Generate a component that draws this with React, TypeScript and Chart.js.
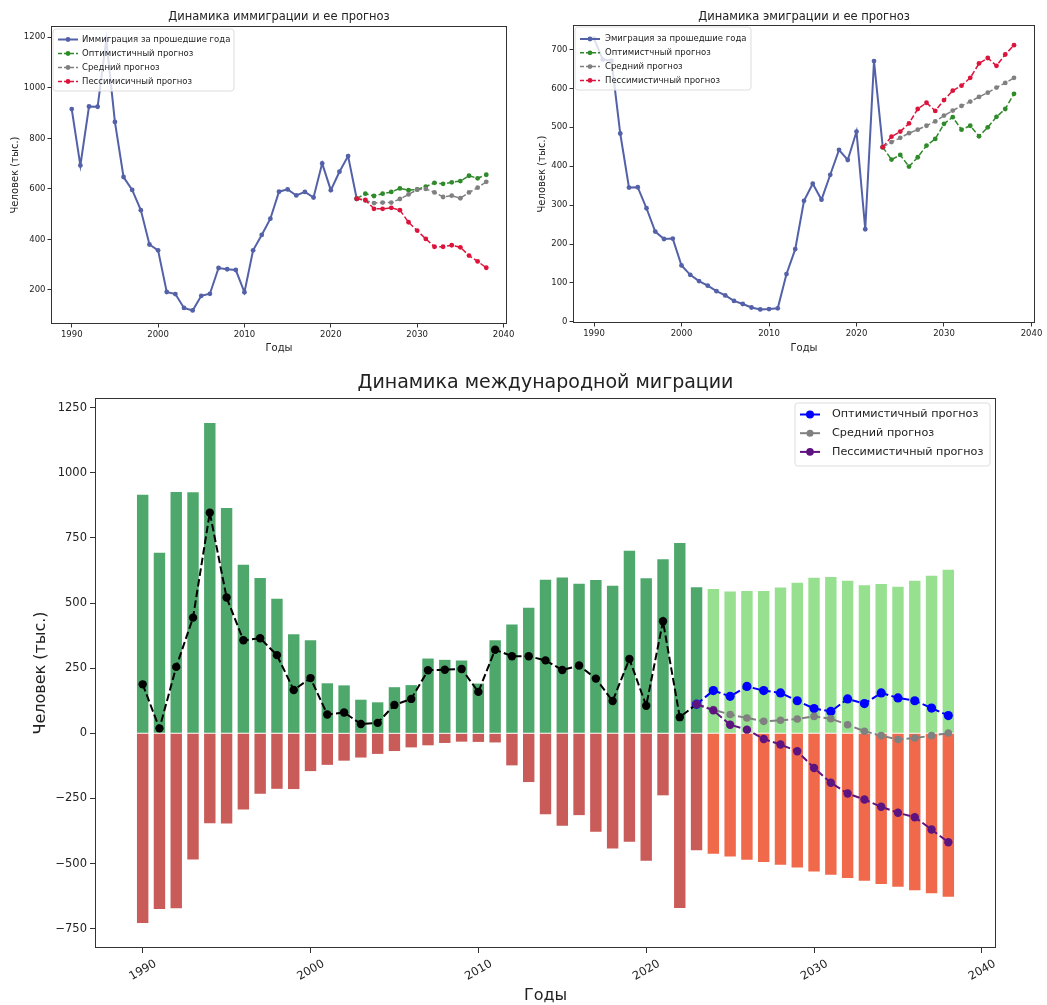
import React, { useEffect, useRef } from "react";
import { Chart, registerables } from "chart.js";
Chart.register(...registerables);

const FONT = "'DejaVu Sans', 'Liberation Sans', sans-serif";

// ---------------- data ----------------
const histYears = [
  1990, 1991, 1992, 1993, 1994, 1995, 1996, 1997, 1998, 1999,
  2000, 2001, 2002, 2003, 2004, 2005, 2006, 2007, 2008, 2009,
  2010, 2011, 2012, 2013, 2014, 2015, 2016, 2017, 2018, 2019,
  2020, 2021, 2022, 2023,
];
const forecastYears = [
  2023, 2024, 2025, 2026, 2027, 2028, 2029, 2030,
  2031, 2032, 2033, 2034, 2035, 2036, 2037, 2038,
];

const immigrationHist = [
  916, 693, 926, 925, 1191, 865, 647, 596, 516, 380,
  357, 192, 184, 129, 119, 177, 185, 287, 282, 279,
  191, 357, 418, 482, 589, 598, 574, 588, 566, 701,
  595, 668, 730, 561,
];
const emigrationHist = [
  728, 674, 671, 484, 345, 346, 292, 232, 213, 214,
  145, 121, 105, 93, 79, 68, 54, 46, 37, 32,
  33, 35, 123, 187, 311, 355, 314, 378, 442, 416,
  489, 238, 670, 449,
];
const netHist = [
  188, 19, 255, 444, 847, 521, 357, 365, 300, 166,
  212, 72, 80, 36, 40, 109, 132, 242, 244, 247,
  159, 321, 296, 296, 280, 243, 260, 210, 124, 285,
  106, 430, 62, 112,
];

const immOptimistic = [561, 581, 572, 581, 588, 602, 595, 598, 609, 624, 620, 626, 631, 652, 642, 656];
const immMiddle = [561, 554, 544, 546, 546, 560, 578, 597, 600, 586, 568, 573, 563, 586, 605, 628];
const immPessimistic = [561, 556, 521, 521, 525, 516, 468, 435, 402, 371, 371, 377, 369, 336, 313, 288];

const emigOptimistic = [449, 417, 429, 399, 423, 453, 470, 509, 526, 494, 504, 477, 500, 527, 547, 586];
const emigMiddle = [449, 462, 473, 485, 494, 504, 515, 530, 543, 555, 566, 578, 589, 602, 614, 627];
const emigPessimistic = [449, 476, 489, 510, 547, 563, 542, 570, 594, 607, 627, 664, 678, 658, 687, 711];

const netOptimistic = [112, 164, 142, 180, 164, 155, 125, 95, 84, 132, 114, 155, 136, 125, 97, 68];
const netMiddle = [112, 91, 72, 59, 46, 50, 55, 65, 56, 33, 8, -9, -24, -18, -9, 1];
const netPessimistic = [112, 88, 33, 14, -22, -43, -69, -133, -190, -231, -254, -282, -305, -322, -369, -418];

const xTicks = [1990, 2000, 2010, 2020, 2030, 2040];
const immTicks = [200, 400, 600, 800, 1000, 1200];
const emigTicks = [0, 100, 200, 300, 400, 500, 600, 700];
const netTicks = [-750, -500, -250, 0, 250, 500, 750, 1000, 1250];

const LAST_HIST_YEAR = 2023;

// ---------------- helpers ----------------
const pts = (xs: number[], ys: number[], sign = 1) => xs.map((x, i) => ({ x, y: ys[i] * sign }));
const padRange = (vals: number[], frac = 0.05): [number, number] => {
  const lo = Math.min(...vals);
  const hi = Math.max(...vals);
  const d = (hi - lo) * frac;
  return [lo - d, hi + d];
};
const fmt = (v: number) => (v < 0 ? "\u2212" + Math.abs(v) : String(v));

const C = {
  hist: "#5361a8",
  green: "#2f8a2a",
  gray: "#808080",
  red: "#dc143c",
  blue: "#0000ff",
  purple: "#5e1480",
  histGreen: "#4ea86c",
  fcGreen: "#97e08f",
  histRed: "#c95b58",
  fcRed: "#f0694a",
  text: "#222222",
  axis: "#333333",
};

type LegendItem = { label: string; color: string; dash: number[]; r: number; lw: number };
type DecoCfg = {
  title: string;
  titleSize: number;
  titleY: number;
  legend: {
    x: number; y: number; w: number; h: number;
    firstY: number; rowH: number; h0: number; h1: number; textX: number; size: number;
    items: LegendItem[];
  };
};

function makeDeco(cfg: DecoCfg) {
  return {
    id: "deco",
    afterDatasetsDraw(chart: any) {
      const ctx: CanvasRenderingContext2D = chart.ctx;
      const ca = chart.chartArea;
      ctx.save();
      // frame
      ctx.setLineDash([]);
      ctx.strokeStyle = C.axis;
      ctx.lineWidth = 1;
      ctx.strokeRect(Math.round(ca.left) + 0.5, Math.round(ca.top) + 0.5, Math.round(ca.right - ca.left) - 1, Math.round(ca.bottom - ca.top) - 1);
      // title
      ctx.fillStyle = C.text;
      ctx.font = `${cfg.titleSize}px ${FONT}`;
      ctx.textAlign = "center";
      ctx.textBaseline = "middle";
      ctx.fillText(cfg.title, (ca.left + ca.right) / 2, cfg.titleY);
      // legend
      const L = cfg.legend;
      ctx.globalAlpha = 0.8;
      ctx.fillStyle = "#ffffff";
      ctx.beginPath();
      (ctx as any).roundRect(L.x, L.y, L.w, L.h, 3);
      ctx.fill();
      ctx.globalAlpha = 1;
      ctx.strokeStyle = "#dddddd";
      ctx.lineWidth = 1;
      ctx.stroke();
      L.items.forEach((it, i) => {
        const cy = L.y + L.firstY + i * L.rowH;
        ctx.setLineDash(it.dash);
        ctx.strokeStyle = it.color;
        ctx.lineWidth = it.lw;
        ctx.beginPath();
        ctx.moveTo(L.x + L.h0, cy);
        ctx.lineTo(L.x + L.h1, cy);
        ctx.stroke();
        ctx.setLineDash([]);
        ctx.fillStyle = it.color;
        ctx.beginPath();
        ctx.arc(L.x + (L.h0 + L.h1) / 2, cy, it.r, 0, Math.PI * 2);
        ctx.fill();
        ctx.fillStyle = C.text;
        ctx.font = `${L.size}px ${FONT}`;
        ctx.textAlign = "left";
        ctx.textBaseline = "middle";
        ctx.fillText(it.label, L.x + L.textX, cy);
      });
      ctx.restore();
    },
  };
}

function xScale(range: [number, number], o: any) {
  return {
    type: "linear",
    min: range[0],
    max: range[1],
    offset: false,
    afterBuildTicks: (s: any) => { s.ticks = xTicks.map((v) => ({ value: v })); },
    afterFit: (s: any) => { s.height = o.height; },
    grid: { display: true, drawOnChartArea: false, drawTicks: true, tickLength: o.tickLength, color: C.axis, offset: false },
    border: { display: false },
    ticks: {
      callback: (v: number) => fmt(v),
      font: { family: FONT, size: o.tickSize },
      color: C.text,
      padding: o.tickPad,
      minRotation: o.rotation,
      maxRotation: o.rotation,
      autoSkip: false,
      labelOffset: o.labelOffset || 0,
    },
    title: { display: true, text: "Годы", font: { family: FONT, size: o.titleSize }, color: C.text, padding: o.titlePad },
  };
}

function yScale(range: [number, number], ticks: number[], o: any) {
  return {
    type: "linear",
    min: range[0],
    max: range[1],
    afterBuildTicks: (s: any) => { s.ticks = ticks.map((v) => ({ value: v })); },
    afterFit: (s: any) => { s.width = o.width; },
    grid: { display: true, drawOnChartArea: false, drawTicks: true, tickLength: o.tickLength, color: C.axis },
    border: { display: false },
    ticks: { callback: (v: number) => fmt(v), font: { family: FONT, size: o.tickSize }, color: C.text, padding: o.tickPad },
    title: { display: true, text: "Человек (тыс.)", font: { family: FONT, size: o.titleSize }, color: C.text, padding: o.titlePad },
  };
}

function lineDs(label: string, data: any[], color: string, o: any) {
  return {
    type: "line",
    label,
    data,
    borderColor: color,
    backgroundColor: color,
    pointBackgroundColor: color,
    pointBorderColor: color,
    pointBorderWidth: 0,
    pointRadius: o.r,
    borderWidth: o.lw,
    borderDash: o.dash || [],
    tension: 0,
    fill: false,
    order: o.order,
  };
}

function baseOptions(padding: any, scales: any) {
  return {
    responsive: false,
    animation: false,
    devicePixelRatio: 1,
    layout: { padding, autoPadding: false },
    plugins: { legend: { display: false }, tooltip: { enabled: false }, title: { display: false } },
    scales,
  };
}

// ---------------- charts ----------------
function immigrationConfig() {
  const yr = padRange([...immigrationHist, ...immOptimistic, ...immMiddle, ...immPessimistic]);
  const xr = padRange([histYears[0], forecastYears[forecastYears.length - 1]]);
  const fd = [5.5, 2.4];
  return {
    type: "line",
    data: {
      datasets: [
        lineDs("Пессимисичный прогноз", pts(forecastYears, immPessimistic), C.red, { r: 2.4, lw: 1.5, dash: fd, order: 1 }),
        lineDs("Средний прогноз", pts(forecastYears, immMiddle), C.gray, { r: 2.4, lw: 1.5, dash: fd, order: 2 }),
        lineDs("Оптимистичный прогноз", pts(forecastYears, immOptimistic), C.green, { r: 2.4, lw: 1.5, dash: fd, order: 3 }),
        lineDs("Иммиграция за прошедшие года", pts(histYears, immigrationHist), C.hist, { r: 2.4, lw: 2, order: 4 }),
      ],
    },
    options: baseOptions(
      { left: 4, right: 13, top: 26, bottom: 0 },
      {
        x: xScale(xr, { height: 36, tickLength: 3.5, tickSize: 8.5, tickPad: 2, rotation: 0, titleSize: 10, titlePad: { top: 2, bottom: 6 } }),
        y: yScale(yr, immTicks, { width: 47, tickLength: 3.5, tickSize: 8.5, tickPad: 2, titleSize: 10, titlePad: { top: 5, bottom: 2 } }),
      }
    ),
    plugins: [
      makeDeco({
        title: "Динамика иммиграции и ее прогноз",
        titleSize: 11.5,
        titleY: 17,
        legend: {
          x: 53, y: 29, w: 181, h: 62, firstY: 10.5, rowH: 14, h0: 5, h1: 25, textX: 29, size: 8.5,
          items: [
            { label: "Иммиграция за прошедшие года", color: C.hist, dash: [], r: 2.4, lw: 2 },
            { label: "Оптимистичный прогноз", color: C.green, dash: [4, 2], r: 2.4, lw: 1.5 },
            { label: "Средний прогноз", color: C.gray, dash: [4, 2], r: 2.4, lw: 1.5 },
            { label: "Пессимисичный прогноз", color: C.red, dash: [4, 2], r: 2.4, lw: 1.5 },
          ],
        },
      }),
    ],
  };
}

function emigrationConfig() {
  const yr = padRange([...emigrationHist, ...emigOptimistic, ...emigMiddle, ...emigPessimistic]);
  const xr = padRange([histYears[0], forecastYears[forecastYears.length - 1]]);
  const fd = [5.5, 2.4];
  return {
    type: "line",
    data: {
      datasets: [
        lineDs("Пессимистичный прогноз", pts(forecastYears, emigPessimistic), C.red, { r: 2.4, lw: 1.5, dash: fd, order: 1 }),
        lineDs("Средний прогноз", pts(forecastYears, emigMiddle), C.gray, { r: 2.4, lw: 1.5, dash: fd, order: 2 }),
        lineDs("Оптимистчный прогноз", pts(forecastYears, emigOptimistic), C.green, { r: 2.4, lw: 1.5, dash: fd, order: 3 }),
        lineDs("Эмиграция за прошедшие года", pts(histYears, emigrationHist), C.hist, { r: 2.4, lw: 2, order: 4 }),
      ],
    },
    options: baseOptions(
      { left: 5, right: 12, top: 25, bottom: 0 },
      {
        x: xScale(xr, { height: 37, tickLength: 3.5, tickSize: 8.5, tickPad: 2, rotation: 0, titleSize: 10, titlePad: { top: 2, bottom: 6 } }),
        y: yScale(yr, emigTicks, { width: 48, tickLength: 3.5, tickSize: 8.5, tickPad: 2, titleSize: 10, titlePad: { top: 11, bottom: 2 } }),
      }
    ),
    plugins: [
      makeDeco({
        title: "Динамика эмиграции и ее прогноз",
        titleSize: 11.5,
        titleY: 17,
        legend: {
          x: 55, y: 27, w: 176, h: 63, firstY: 12, rowH: 13.8, h0: 5, h1: 25, textX: 30, size: 8.5,
          items: [
            { label: "Эмиграция за прошедшие года", color: C.hist, dash: [], r: 2.4, lw: 2 },
            { label: "Оптимистчный прогноз", color: C.green, dash: [4, 2], r: 2.4, lw: 1.5 },
            { label: "Средний прогноз", color: C.gray, dash: [4, 2], r: 2.4, lw: 1.5 },
            { label: "Пессимистичный прогноз", color: C.red, dash: [4, 2], r: 2.4, lw: 1.5 },
          ],
        },
      }),
    ],
  };
}

function netConfig() {
  const barYears = [...histYears, ...forecastYears.slice(1)];
  const immBars = [...immigrationHist, ...immMiddle.slice(1)];
  const emigBars = [...emigrationHist, ...emigMiddle.slice(1)];
  const yr = padRange([...immBars, ...emigBars.map((v) => -v), 0]);
  const xr = padRange([barYears[0] - 0.4, barYears[barYears.length - 1] + 0.4]);
  const immColors = barYears.map((y) => (y <= LAST_HIST_YEAR ? C.histGreen : C.fcGreen));
  const emigColors = barYears.map((y) => (y <= LAST_HIST_YEAR ? C.histRed : C.fcRed));
  const dash = [7.5, 3.3];
  return {
    type: "bar",
    data: {
      datasets: [
        lineDs("Пессимистичный прогноз", pts(forecastYears, netPessimistic), C.purple, { r: 4.2, lw: 2, dash, order: 1 }),
        lineDs("Средний прогноз", pts(forecastYears, netMiddle), C.gray, { r: 3.8, lw: 2, dash, order: 2 }),
        lineDs("Оптимистичный прогноз", pts(forecastYears, netOptimistic), C.blue, { r: 4.6, lw: 2, dash, order: 3 }),
        lineDs("Сальдо миграции", pts(histYears, netHist), "#000000", { r: 4.2, lw: 2, dash, order: 4 }),
        {
          type: "bar",
          label: "Иммиграция",
          data: pts(barYears, immBars),
          backgroundColor: immColors,
          borderWidth: 0,
          grouped: false,
          barPercentage: 0.68,
          categoryPercentage: 1,
          order: 5,
        },
        {
          type: "bar",
          label: "Эмиграция",
          data: pts(barYears, emigBars, -1),
          backgroundColor: emigColors,
          borderWidth: 0,
          grouped: false,
          barPercentage: 0.68,
          categoryPercentage: 1,
          order: 6,
        },
      ],
    },
    options: baseOptions(
      { left: 22, right: 51, top: 38, bottom: 0 },
      {
        x: xScale(xr, { height: 57, tickLength: 5, tickSize: 11.5, tickPad: 4, rotation: 30, labelOffset: 13, titleSize: 16, titlePad: { top: 2, bottom: 0 } }),
        y: yScale(yr, netTicks, { width: 73, tickLength: 5, tickSize: 11.5, tickPad: 3, titleSize: 16, titlePad: { top: 9, bottom: 2 } }),
      }
    ),
    plugins: [
      makeDeco({
        title: "Динамика международной миграции",
        titleSize: 19,
        titleY: 23,
        legend: {
          x: 795, y: 43, w: 195, h: 63, firstY: 11.5, rowH: 18.7, h0: 5, h1: 25, textX: 37, size: 11.2,
          items: [
            { label: "Оптимистичный прогноз", color: C.blue, dash: [], r: 4, lw: 2 },
            { label: "Средний прогноз", color: C.gray, dash: [], r: 3.5, lw: 2 },
            { label: "Пессимистичный прогноз", color: C.purple, dash: [], r: 3.8, lw: 2 },
          ],
        },
      }),
    ],
  };
}

function ChartBox({ left, top, width, height, make }: any) {
  const ref = useRef<HTMLCanvasElement>(null);
  useEffect(() => {
    const chart = new Chart(ref.current as HTMLCanvasElement, make() as any);
    return () => chart.destroy();
  }, []);
  return (
    <div style={{ position: "absolute", left, top, width, height }}>
      <canvas ref={ref} width={width} height={height} style={{ width, height, display: "block" }} />
    </div>
  );
}

export default function App() {
  return (
    <div style={{ position: "absolute", left: 0, top: 0, width: 1047, height: 1005, background: "#ffffff", overflow: "hidden" }}>
      <ChartBox left={0} top={0} width={520} height={360} make={immigrationConfig} />
      <ChartBox left={520} top={0} width={527} height={360} make={emigrationConfig} />
      <ChartBox left={0} top={360} width={1047} height={645} make={netConfig} />
    </div>
  );
}
